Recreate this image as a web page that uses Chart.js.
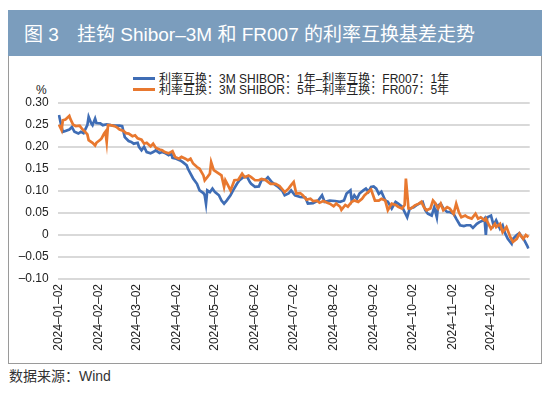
<!DOCTYPE html>
<html>
<head>
<meta charset="utf-8">
<script src="https://cdn.jsdelivr.net/npm/chart.js@4"></script>
<style>
  html, body { margin:0; padding:0; background:#fff; }
  body { width:550px; height:396px; position:relative; overflow:hidden;
         font-family:"Liberation Sans","Noto Sans CJK SC",Arial,sans-serif; }
  .abs { position:absolute; white-space:nowrap; }
  #box { left:8px; top:55px; width:534px; height:309px; box-sizing:border-box; border:1px solid #9a9a9a; }
  #header { left:8px; top:10px; width:534px; height:46px; background:#7b9dbd; }
  .title { color:#fff; font-size:19px; line-height:19px; top:25px; }
  .legtxt { font-size:12px; line-height:12px; color:#222; left:159px; }
  .legline { left:133px; width:22px; height:3px; }
  #chart { position:absolute; left:0; top:0; }
</style>
</head>
<body>
<div id="box" class="abs"></div>
<div id="header" class="abs"></div>
<div class="abs title" style="left:24px;">图 3</div>
<div class="abs title" style="left:77px;">挂钩 Shibor–3M 和 FR007 的利率互换基差走势</div>
<div class="abs legline" style="top:77px;background:#3f6db5;"></div>
<div class="abs legtxt" style="top:72.5px;">利率互换：3M SHIBOR：1年–利率互换：FR007：1年</div>
<div class="abs legline" style="top:88px;background:#e8782f;"></div>
<div class="abs legtxt" style="top:83.5px;">利率互换：3M SHIBOR：5年–利率互换：FR007：5年</div>
<div class="abs" style="left:36px;top:84px;font-size:12px;line-height:12px;color:#222;">%</div>
<div class="abs" style="left:9px;top:368px;font-size:14px;line-height:16px;color:#333;">数据来源：Wind</div>
<canvas id="chart" width="550" height="396"></canvas>
<script>
// x = days since 2024-01-01
const tickDays = [1,32,61,92,122,153,183,214,245,275,306,336];
const tickLabels = ['2024–01–02','2024–02–02','2024–03–02','2024–04–02','2024–05–02','2024–06–02',
                    '2024–07–02','2024–08–02','2024–09–02','2024–10–02','2024–11–02','2024–12–02'];
const yTicks = [-0.10,-0.05,0,0.05,0.10,0.15,0.20,0.25,0.30];
const yTickLabels = ['–0.10','–0.05','0','0.05','0.10','0.15','0.20','0.25','0.30'];

const seriesNames = ['利率互换：3M SHIBOR：1年–利率互换：FR007：1年','利率互换：3M SHIBOR：5年–利率互换：FR007：5年'];

const blueDays = [1,3,4,6,9,11,13,16,18,20,23,24,26,27,29,30,33,35,38,41,44,48,50,52,55,57,59,62,63,65,67,69,72,74,76,79,81,83,86,88,89,
  92,95,97,100,101,103,105,108,110,113,114,115,116,118,120,122,125,127,129,131,134,136,139,141,144,147,149,150,153,156,158,161,163,166,169,171,174,
  176,179,181,184,188,192,194,198,202,205,207,211,215,219,222,224,227,228,230,232,234,237,239,241,243,245,247,249,251,254,256,259,262,264,267,
  269,271,273,276,278,281,283,285,287,290,292,294,295,297,299,302,304,307,309,312,315,317,320,322,325,327,330,331,332,333,336,338,340,343,345,347,349,352,353,356,358,360,362,364,365];
const blueValues = [.272,.245,.234,.236,.239,.245,.234,.230,.234,.231,.249,.268,.253,.249,.264,.254,.253,.249,.251,.249,
  .248,.248,.247,.222,.213,.211,.207,.209,.200,.192,.200,.188,.185,.188,.192,.186,.188,.186,.181,.185,.175,
  .173,.169,.165,.158,.150,.139,.128,.116,.101,.095,.090,.071,.101,.097,.105,.097,.090,.078,.071,.078,
  .090,.101,.116,.124,.131,.131,.120,.116,.109,.110,.124,.125,.131,.120,.113,.109,.101,
  .090,.094,.101,.090,.086,.085,.071,.072,.078,.090,.075,.078,.077,.075,.078,.094,.101,.078,.090,.082,
  .094,.101,.105,.098,.109,.110,.105,.093,.098,.078,.075,.060,.075,.071,.064,
  .052,.040,.060,.063,.067,.072,.075,.056,.048,.044,.063,.040,.067,.071,.060,.052,.052,.048,.037,.022,
  .020,.022,.022,.016,.025,.029,.033,.037,.000,.040,.044,.022,.033,.014,.022,.003,-.009,-.020,-.009,.000,
  .004,-.005,-.013,-.024,-.031];

const orangeDays = [1,3,4,6,9,10,12,14,17,19,21,23,24,27,29,30,33,34,36,37,38,39,41,44,46,48,51,53,55,58,60,62,65,67,69,72,74,76,79,81,83,86,89,
  91,94,96,99,101,103,105,108,110,113,114,116,118,119,121,123,125,127,129,130,132,134,136,137,140,143,145,148,150,153,156,158,161,165,169,172,
  176,179,181,183,185,188,190,193,196,198,201,203,206,209,211,214,216,219,220,223,225,228,230,233,236,238,241,243,246,249,251,254,256,259,262,264,267,269,270,272,
  274,277,280,282,284,286,289,291,293,295,297,299,302,304,307,309,311,313,316,318,321,324,326,328,331,332,334,336,339,340,343,345,348,351,353,356,358,361,363,365];
const orangeValues = [.250,.238,.260,.262,.270,.262,.250,.247,.248,.240,.235,.228,.215,.209,.203,.209,.216,.219,.230,.234,
  .211,.249,.249,.247,.244,.239,.236,.231,.230,.224,.226,.219,.216,.207,.209,.201,.207,.198,.194,.192,.188,.185,.190,
  .177,.173,.177,.173,.169,.173,.162,.154,.150,.135,.124,.131,.139,.165,.147,.143,.139,.135,.109,.124,
  .113,.101,.116,.124,.125,.139,.131,.135,.131,.124,.124,.127,.125,.116,.116,.111,
  .097,.105,.113,.120,.094,.095,.090,.080,.082,.077,.078,.073,.077,.073,.071,.065,.071,.064,.057,.068,
  .064,.075,.078,.075,.082,.090,.098,.103,.078,.078,.082,.078,.056,.071,.068,.064,.060,.068,.128,.060,
  .060,.067,.071,.075,.063,.056,.060,.078,.071,.060,.071,.056,.063,.060,.048,.071,.052,.040,.044,.040,
  .037,.048,.037,.040,.033,.037,.025,.014,.025,.018,.025,.006,.018,-.005,-.016,-.009,.003,-.009,.000,-.005];

const toPoints = (xs, ys) => xs.map((x, i) => ({x: x, y: ys[i]}));
const FONT = '"Liberation Sans","Noto Sans CJK SC",Arial,sans-serif';

new Chart(document.getElementById('chart'), {
  type: 'line',
  data: {
    datasets: [
      { label: seriesNames[0], data: toPoints(blueDays, blueValues), borderColor: '#3f6db5',
        borderWidth: 2.7, pointRadius: 0, tension: 0, order: 1 },
      { label: seriesNames[1], data: toPoints(orangeDays, orangeValues), borderColor: '#e8782f',
        borderWidth: 2.7, pointRadius: 0, tension: 0, order: 0 }
    ]
  },
  options: {
    responsive: false,
    animation: false,
    events: [],
    layout: { padding: { top: 102.7, right: 20.3, bottom: 0, left: 0 } },
    plugins: { legend: { display: false }, tooltip: { enabled: false } },
    scales: {
      x: {
        type: 'linear', min: 0, max: 366,
        grid: { display: false, drawTicks: false },
        border: { display: false },
        afterBuildTicks: (s) => { s.ticks = tickDays.map(v => ({value: v})); },
        afterFit: (s) => { s.height = 117; },
        ticks: {
          autoSkip: false, minRotation: 90, maxRotation: 90, padding: 5,
          color: '#222', font: { family: FONT, size: 12 },
          callback: (v, i) => tickLabels[i]
        }
      },
      y: {
        min: -0.10, max: 0.30,
        grid: { color: '#d9d9d9', lineWidth: 2, drawTicks: false },
        border: { display: false },
        afterBuildTicks: (s) => { s.ticks = yTicks.map(v => ({value: v})); },
        afterFit: (s) => { s.width = 57.7; },
        ticks: {
          padding: 9, color: '#222', font: { family: FONT, size: 12 },
          callback: (v, i) => yTickLabels[i]
        }
      }
    }
  }
});
</script>
</body>
</html>
